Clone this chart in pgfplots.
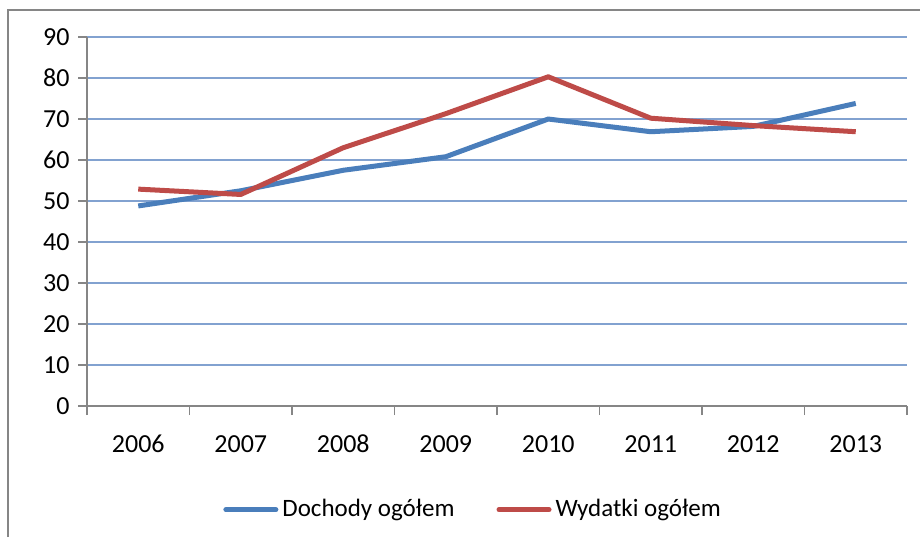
\documentclass[border=0pt]{standalone}
\usepackage{fontspec}
\setmainfont{Carlito}
\usepackage{pgfplots}
\pgfplotsset{compat=1.18}
\definecolor{dochody}{RGB}{74,126,187}
\definecolor{wydatki}{RGB}{190,75,72}
\definecolor{gridblue}{RGB}{130,162,208}
\definecolor{axisgray}{RGB}{134,134,134}
\begin{document}
\fontsize{12}{14}\selectfont
\begin{tikzpicture}
\useasboundingbox (0,0) rectangle (460pt,268.5pt);
\draw[axisgray, line width=1pt] (4pt,0) -- (4pt,263.5pt) -- (460pt,263.5pt);
\begin{axis}[
  at={(43.5pt,65.5pt)}, anchor=south west,
  scale only axis, width=410pt, height=184.5pt,
  xmin=-0.5, xmax=7.5, ymin=0, ymax=90,
  axis lines*=left,
  axis line style={axisgray, line width=0.8pt, -},
  xtick={-0.5,0.5,...,7.5},
  xticklabels={},
  extra x ticks={0,...,7},
  extra x tick labels={2006,2007,2008,2009,2010,2011,2012,2013},
  extra x tick style={grid=none, major tick length=0pt,
    xticklabel style={text height=9pt, text depth=0pt, yshift=-10pt}},
  ytick={0,10,...,90},
  tick align=outside,
  major tick length=4.5pt,
  tick style={axisgray, line width=0.8pt},
  ymajorgrids,
  grid style={gridblue, line width=0.8pt},
  xticklabel style={font=\fontsize{13}{15}\selectfont},
  yticklabel style={font=\fontsize{13}{15}\selectfont},
  /pgf/number format/assume math mode=true,
  legend columns=2,
  legend style={draw=none, fill=none, at={(0.472,-0.281)}, anchor=center,
    font=\fontsize{12.5}{14}\selectfont,
    /tikz/every even column/.append style={column sep=19pt}},
  legend image code/.code={\draw[#1, line width=2.5pt, line cap=round] (0pt,0pt) -- (25pt,0pt);},
  every axis legend/.append style={cells={anchor=west}, inner sep=0pt},
]
\addplot[dochody, line width=2.5pt, line join=round] coordinates {
  (0,48.8) (1,52.5) (2,57.5) (3,60.8) (4,70.0) (5,66.9) (6,68.2) (7,73.8)};
\addplot[wydatki, line width=2.5pt, line join=round] coordinates {
  (0,52.9) (1,51.6) (2,63.0) (3,71.3) (4,80.3) (5,70.2) (6,68.4) (7,66.9)};
\legend{Dochody ogółem, Wydatki ogółem}
\end{axis}
\end{tikzpicture}
\end{document}
